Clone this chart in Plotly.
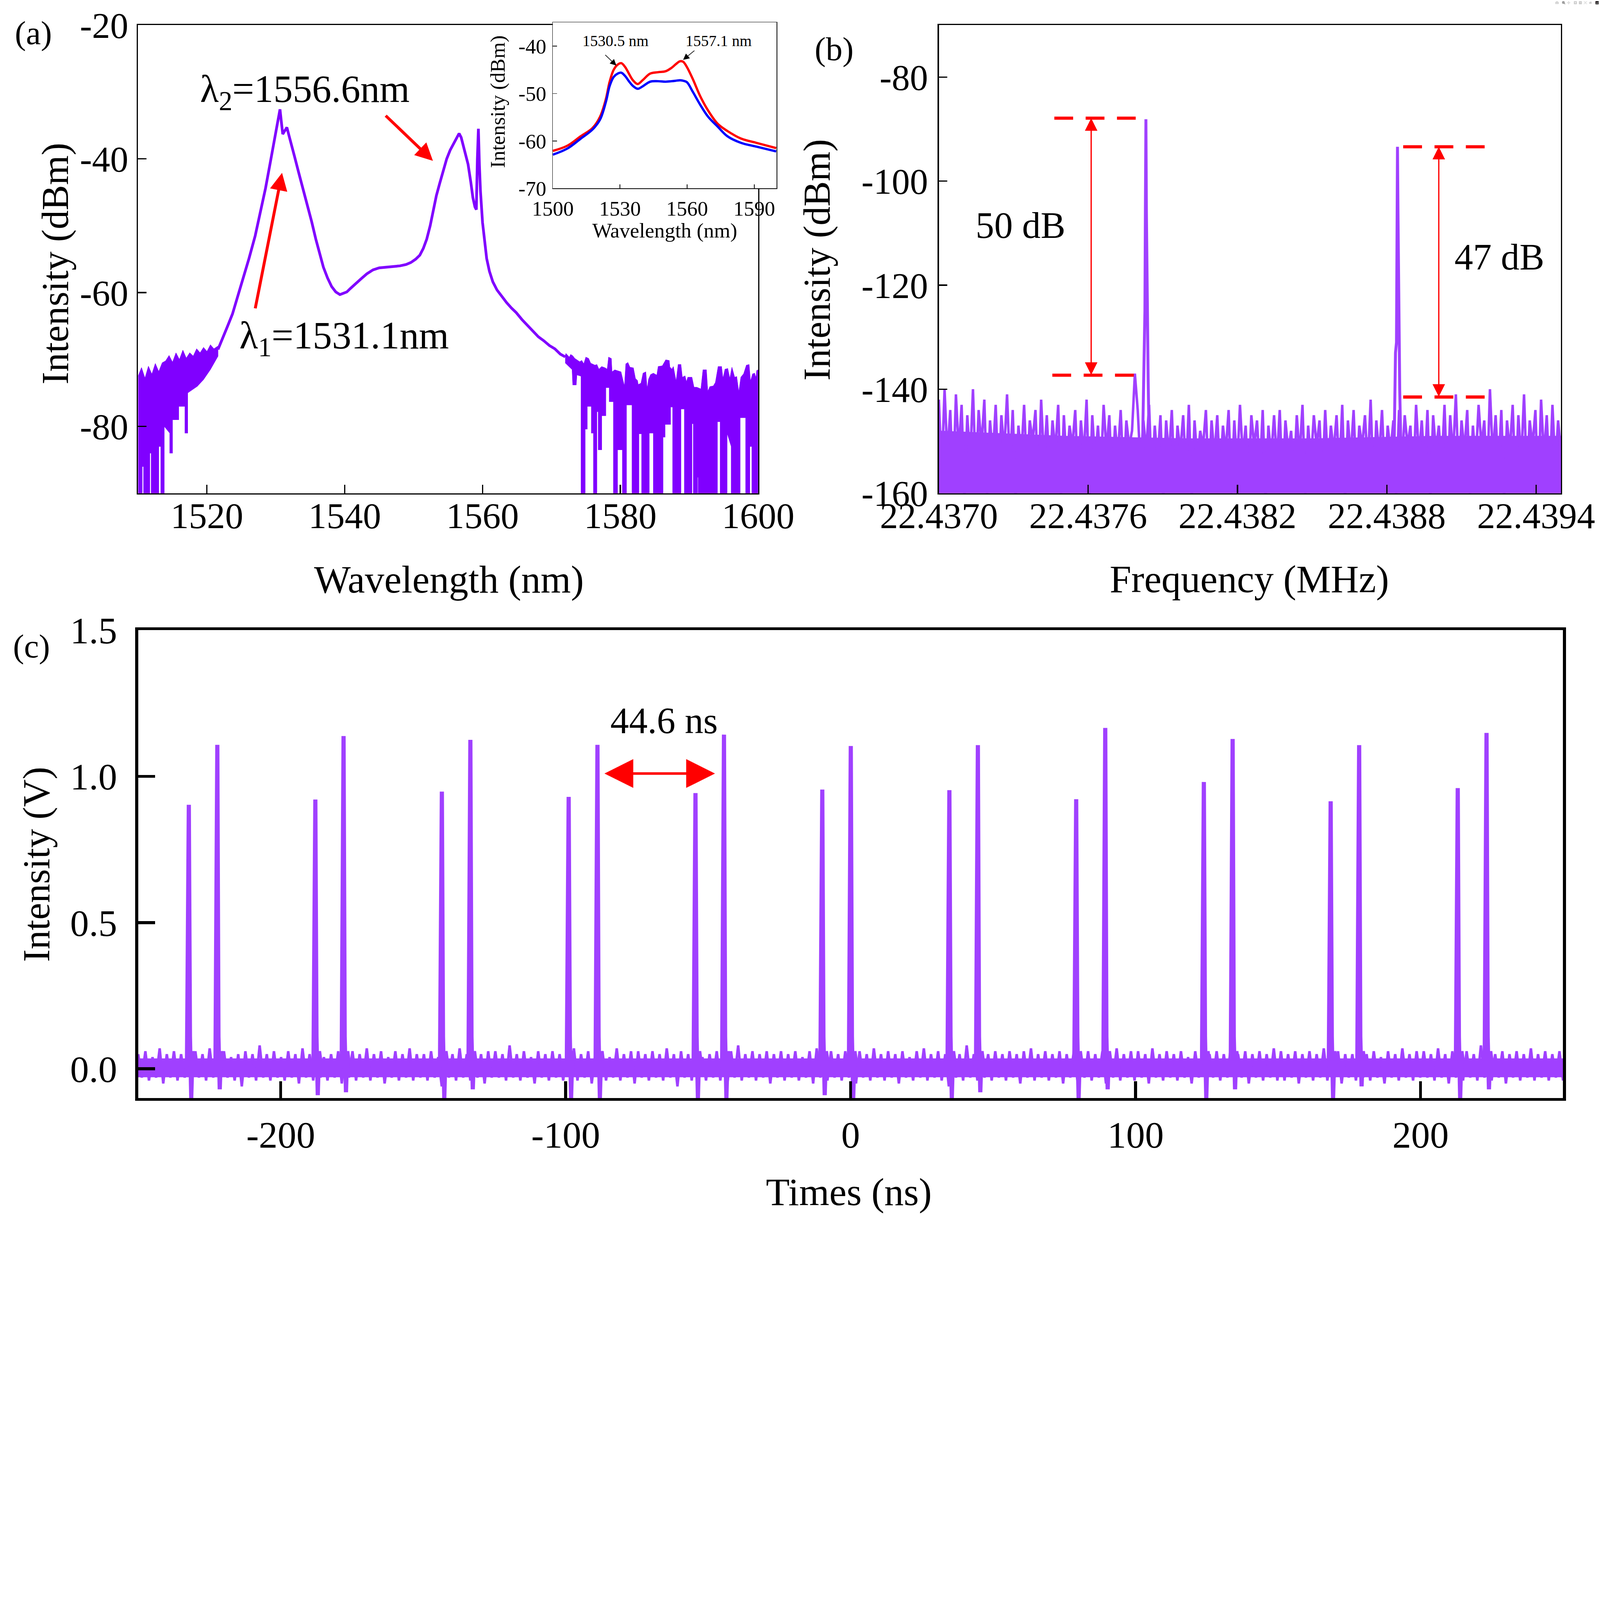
import numpy as np
import plotly.graph_objects as go

FONT = "Liberation Serif"
PURPLE_A = "#8000FF"
PURPLE_BC = "#A040FF"
W, H = 7662, 5889

# ---------------- (a) optical spectrum ----------------
# noisy floor at the left: upper and lower edges of the purple band (nm, dBm)
a_left_top_wl = [1510.0, 1510.5, 1511.0, 1511.5, 1512.0, 1512.5, 1513.0, 1513.5, 1514.0, 1514.5, 1515.0, 1515.5,
                 1516.0, 1516.5, 1517.0, 1517.5, 1518.0, 1518.5, 1519.0, 1519.5, 1520.0, 1520.5, 1521.0, 1521.6]
a_left_top = [-72.5, -71.2, -72.8, -71.0, -72.2, -70.6, -71.8, -70.5, -70.2, -69.4, -70.4, -69.0,
              -70.0, -68.6, -69.8, -69.0, -69.5, -68.4, -69.0, -68.2, -68.8, -67.8, -68.4, -68.0]
a_left_bot_wl = [1510.0, 1510.6, 1510.6, 1510.8, 1510.8, 1511.7, 1511.7, 1511.9, 1511.9, 1513.0, 1513.0, 1513.3,
                 1513.3, 1513.8, 1513.8, 1514.6, 1514.6, 1515.0, 1515.0, 1515.9, 1515.9, 1516.8, 1516.8, 1517.2,
                 1517.2, 1518.6, 1519.5, 1520.5, 1521.6]
a_left_bot = [-95, -95, -86, -86, -95, -95, -84, -84, -95, -95, -83, -83,
              -95, -95, -80, -81, -84, -84, -79, -79, -77, -77, -81, -81,
              -75, -74, -73, -71.5, -69.5]
# smooth part of the spectrum
a_main_wl = [1521.6, 1522.0, 1522.5, 1523.0, 1523.7, 1524.5, 1525.3, 1526.1, 1527.0, 1527.8,
             1528.5, 1529.2, 1529.7, 1530.1, 1530.4, 1530.6, 1530.8, 1531.0, 1531.3, 1531.6,
             1531.9, 1532.3, 1532.7, 1533.3, 1534.0, 1534.5, 1535.2, 1535.8, 1536.3, 1536.9,
             1537.5, 1538.1, 1538.7, 1539.3, 1539.8, 1540.3, 1540.8, 1541.5, 1542.3, 1543.2,
             1544.1, 1545.0, 1546.0, 1547.0, 1548.0, 1548.9, 1549.6, 1550.3, 1550.9, 1551.4,
             1551.9, 1552.4, 1552.8, 1553.3, 1553.8, 1554.3, 1554.8, 1555.3, 1555.8, 1556.2,
             1556.6, 1556.9, 1557.2, 1557.6, 1557.9, 1558.3, 1558.6, 1558.9, 1559.1, 1559.25,
             1559.4, 1559.55, 1559.7, 1560.0, 1560.3, 1560.6, 1561.0, 1561.5, 1562.1, 1562.8,
             1563.5, 1564.2, 1564.9, 1565.7, 1566.4, 1567.2, 1568.1, 1568.9, 1569.7, 1570.5,
             1571.3, 1572.0]
a_main_int = [-68.5, -67.5, -66.5, -65.0, -63.2, -60.5, -57.5, -54.9, -51.5, -47.8,
              -44.4, -40.5, -37.5, -35.6, -33.8, -32.6, -34.5, -36.3, -35.8, -35.3,
              -36.5, -38.2, -39.6, -42.0, -44.7, -46.5, -49.4, -52.0, -54.1, -56.2,
              -57.8, -59.1, -59.9, -60.3, -60.1, -59.9, -59.4, -58.8, -58.0, -57.2,
              -56.6, -56.3, -56.2, -56.1, -56.0, -55.8, -55.5, -55.0, -54.4, -53.4,
              -52.0, -50.0, -47.8, -45.5, -43.6, -41.7, -40.0, -38.7, -37.7, -36.8,
              -36.2, -36.8, -38.0, -39.2, -40.8, -43.5, -45.8, -47.2, -47.6, -40.0,
              -35.5, -41.0, -44.8, -49.5, -52.5, -54.9, -56.8, -58.4, -59.6, -60.6,
              -61.5, -62.3, -63.0, -64.0, -64.8, -65.7, -66.6, -67.2, -67.9, -68.4,
              -69.2, -69.6]
# noisy floor at the right: upper and lower edges of the purple band
a_right_top_wl = [1572.0, 1572.1, 1572.6, 1572.8, 1573.1, 1573.4, 1573.7, 1574.1, 1574.4, 1574.7, 1575.0, 1575.4,
                  1575.7, 1576.3, 1576.6, 1576.9, 1577.3, 1577.8, 1578.1, 1578.3, 1578.7, 1578.8, 1579.2, 1579.5,
                  1580.1, 1580.6, 1580.8, 1581.1, 1581.4, 1581.9, 1582.2, 1582.5, 1582.6, 1583.0, 1583.3, 1583.7,
                  1583.9, 1584.1, 1584.4, 1584.8, 1585.3, 1585.5, 1586.1, 1586.6, 1587.1, 1587.2, 1587.5, 1587.7,
                  1588.1, 1588.4, 1588.8, 1589.0, 1589.4, 1589.6, 1589.8, 1590.4, 1590.7, 1591.1, 1591.7, 1592.0,
                  1592.5, 1592.7, 1593.0, 1593.5, 1593.8, 1594.2, 1594.7, 1594.9, 1595.2, 1595.6, 1595.9, 1596.2,
                  1596.6, 1596.9, 1597.2, 1597.5, 1597.9, 1598.3, 1598.7, 1598.9, 1599.2, 1599.5, 1599.7, 1599.8,
                  1600.0]
a_right_top = [-69.5, -69.1, -69.65, -69.25, -69.45, -69.85, -70.05, -70.35, -70.15, -70.65, -69.65, -69.85,
               -70.55, -70.85, -70.75, -71.45, -71.05, -71.25, -71.45, -69.65, -69.85, -71.85, -71.55, -71.65,
               -71.85, -74.0, -70.65, -70.45, -71.15, -71.25, -72.85, -73.15, -73.75, -73.55, -72.05, -71.85,
               -74.4, -72.95, -72.25, -72.05, -72.35, -71.05, -70.95, -70.05, -70.15, -71.15, -71.45, -71.05,
               -73.25, -70.75, -70.75, -72.65, -72.45, -73.35, -72.65, -72.65, -74.15, -74.15, -74.4, -71.55,
               -71.55, -74.75, -74.05, -73.95, -73.45, -71.05, -71.05, -72.85, -71.45, -71.35, -72.85, -71.15,
               -72.65, -72.55, -74.85, -72.65, -72.15, -70.85, -70.75, -73.25, -72.15, -72.05, -72.75, -71.65,
               -71.55]
a_right_bot_wl = [1572.0, 1573.0, 1573.1, 1573.6, 1573.7, 1574.3, 1574.3, 1574.9, 1574.9, 1575.2, 1575.2, 1575.8,
                  1575.8, 1576.1, 1576.1, 1576.6, 1576.6, 1576.8, 1576.8, 1577.3, 1577.3, 1577.9, 1577.9, 1578.4,
                  1578.4, 1579.0, 1579.0, 1579.6, 1579.6, 1580.3, 1580.3, 1580.9, 1580.9, 1581.7, 1581.7, 1582.7,
                  1582.7, 1583.1, 1583.1, 1584.2, 1584.2, 1584.8, 1584.8, 1586.2, 1586.2, 1586.5, 1586.5, 1587.3,
                  1587.3, 1587.6, 1587.6, 1588.8, 1588.8, 1589.3, 1589.3, 1590.4, 1590.4, 1590.6, 1590.6, 1591.2,
                  1591.2, 1591.3, 1591.3, 1594.1, 1594.1, 1594.5, 1594.5, 1595.5, 1595.5, 1596.1, 1596.1, 1597.4,
                  1597.4, 1598.2, 1598.2, 1598.8, 1598.8, 1599.1, 1599.1, 1600.0]
a_right_bot = [-70.5, -71.5, -73.8, -73.8, -72.3, -72.5, -95, -95, -80.4, -80.4, -77.0, -77.0,
               -81.0, -81.0, -95, -95, -77.8, -77.8, -83.5, -83.5, -78.4, -78.4, -74.2, -74.2,
               -76.3, -76.3, -95, -95, -83.5, -83.5, -95, -95, -76.8, -76.8, -95, -95,
               -81.1, -81.1, -95, -95, -81.0, -81.0, -95, -95, -81.6, -81.6, -79.7, -79.7,
               -77.1, -77.1, -95, -95, -77.4, -77.4, -95, -95, -79.6, -79.6, -95, -95,
               -87.6, -87.6, -95, -95, -79.3, -79.3, -95, -95, -81.0, -83.0, -95, -95,
               -78.7, -78.7, -95, -95, -83.0, -83.0, -95, -95]

# inset of (a)
inset_wl = [1500, 1506.5, 1512.5, 1517.7, 1521.1, 1523.7, 1525.4, 1527.2, 1529.0, 1530.6,
            1532.3, 1534.0, 1535.8, 1537.9, 1540.1, 1543.5, 1547.0, 1550.4, 1553.0, 1555.0,
            1556.8, 1558.2, 1559.9, 1562.5, 1565.9, 1569.4, 1573.7, 1578.0, 1584.1, 1591.0,
            1599.8]
inset_red = [-62.1, -61.0, -59.0, -57.3, -54.9, -51.2, -47.5, -45.0, -43.9, -43.6,
             -44.4, -45.8, -47.2, -48.0, -47.2, -45.8, -45.5, -45.3, -44.6, -43.8,
             -43.2, -43.3, -44.4, -46.9, -50.6, -53.6, -56.4, -57.9, -59.5, -60.4,
             -61.5]
inset_blue = [-62.9, -61.6, -59.5, -57.6, -55.5, -51.8, -48.4, -46.5, -45.8, -45.6,
              -46.3, -47.4, -48.4, -49.0, -48.5, -47.5, -47.4, -47.5, -47.4, -47.3,
              -47.2, -47.3, -47.6, -49.6, -52.4, -54.9, -57.0, -59.0, -60.4, -61.2,
              -62.2]

# ---------------- (b) RF spectrum ----------------
b_noise_range = (22.4370, 22.4395)
b_noise = [-142, -156, -140, -153, -144, -159, -141, -152, -143, -161, -145, -154, -140, -157, -144, -151, -142, -160, -146, -153,
           -143, -158, -145, -152, -141, -155, -144, -161, -147, -153, -143, -156, -146, -150, -144, -159, -142, -154, -145, -157,
           -146, -152, -143, -160, -145, -155, -147, -151, -144, -158, -146, -153, -142, -161, -145, -154, -147, -156, -143, -152,
           -145, -159, -147, -153, -144, -157, -146, -151, -148, -137, -144, -155, -146, -152, -143, -158, -147, -154, -145, -161,
           -146, -153, -144, -159, -147, -152, -145, -156, -143, -161, -146, -154, -148, -151, -144, -158, -146, -153, -145, -157,
           -147, -152, -144, -160, -146, -155, -143, -153, -147, -158, -145, -151, -146, -156, -144, -161, -147, -153, -145, -154,
           -144, -159, -146, -152, -148, -157, -145, -153, -143, -160, -147, -154, -145, -151, -146, -158, -144, -155, -147, -152,
           -145, -156, -143, -161, -146, -153, -144, -158, -147, -151, -145, -155, -142, -159, -146, -153, -144, -157, -147, -152,
           -146, -160, -144, -154, -145, -151, -147, -158, -143, -153, -146, -156, -144, -161, -145, -152, -147, -155, -143, -159,
           -145, -153, -141, -157, -146, -152, -144, -160, -147, -154, -143, -151, -146, -158, -140, -153, -145, -156, -144, -161,
           -146, -152, -143, -159, -145, -154, -141, -157, -146, -151, -144, -160, -142, -153, -145, -158, -143, -155, -146, -152]
b_env_f = [22.4370, 22.4375, 22.4380, 22.4385, 22.4390, 22.4395]
b_env_top = [-148.0, -149.0, -149.5, -149.5, -149.0, -149.0]
b_env_bot = [-162.0, -162.0, -162.0, -162.0, -162.0, -162.0]
b_peak1_f = [22.437818, 22.437824, 22.437828, 22.437830, 22.437832, 22.437834, 22.437837, 22.437841, 22.437846]
b_peak1_v = [-152, -134, -125, -105, -88.1, -106, -122, -138, -153]
b_peak2_f = [22.438829, 22.438835, 22.438839, 22.438841, 22.438843, 22.438845, 22.438848, 22.438852, 22.438857]
b_peak2_v = [-153, -133, -131, -105, -93.4, -106, -131, -140, -152]

# ---------------- (c) pulse train ----------------
c_base_range = (-250.0, 250.0)
c_base = [0.05, -0.03, 0.06, -0.04, 0.04, -0.03, 0.07, -0.05, 0.05, -0.03, 0.06, -0.04, 0.05, -0.03, 0.04, -0.05, 0.06, -0.03, 0.05, -0.04,
          0.07, -0.03, 0.05, -0.04, 0.06, -0.03, 0.04, -0.04, 0.05, -0.06, 0.06, -0.03, 0.05, -0.04, 0.08, -0.03, 0.05, -0.04, 0.06, -0.03,
          0.04, -0.04, 0.06, -0.03, 0.05, -0.05, 0.07, -0.03, 0.05, -0.04, 0.06, -0.03, 0.04, -0.04, 0.05, -0.03, 0.06, -0.05, 0.05, -0.03,
          0.06, -0.04, 0.05, -0.03, 0.07, -0.04, 0.05, -0.03, 0.06, -0.05, 0.04, -0.03, 0.06, -0.04, 0.05, -0.03, 0.07, -0.04, 0.05, -0.03,
          0.05, -0.04, 0.06, -0.03, 0.04, -0.06, 0.06, -0.03, 0.05, -0.04, 0.07, -0.03, 0.05, -0.04, 0.06, -0.03, 0.05, -0.05, 0.06, -0.03,
          0.06, -0.03, 0.05, -0.04, 0.08, -0.03, 0.05, -0.04, 0.06, -0.03, 0.04, -0.05, 0.06, -0.03, 0.05, -0.04, 0.06, -0.03, 0.05, -0.04,
          0.05, -0.03, 0.07, -0.04, 0.05, -0.03, 0.06, -0.05, 0.05, -0.03, 0.06, -0.04, 0.04, -0.03, 0.07, -0.04, 0.05, -0.03, 0.06, -0.05,
          0.06, -0.03, 0.05, -0.04, 0.06, -0.03, 0.05, -0.04, 0.07, -0.03, 0.05, -0.06, 0.06, -0.03, 0.05, -0.04, 0.06, -0.03, 0.04, -0.04,
          0.05, -0.03, 0.06, -0.04, 0.05, -0.05, 0.06, -0.03, 0.08, -0.04, 0.05, -0.03, 0.06, -0.04, 0.05, -0.03, 0.06, -0.05, 0.05, -0.03,
          0.06, -0.04, 0.05, -0.03, 0.06, -0.04, 0.04, -0.03, 0.06, -0.05, 0.07, -0.03, 0.05, -0.04, 0.06, -0.03, 0.05, -0.04, 0.06, -0.03,
          0.05, -0.05, 0.06, -0.03, 0.05, -0.04, 0.07, -0.03, 0.05, -0.04, 0.06, -0.03, 0.05, -0.05, 0.06, -0.03, 0.04, -0.04, 0.06, -0.03,
          0.07, -0.04, 0.05, -0.03, 0.06, -0.04, 0.05, -0.06, 0.06, -0.03, 0.05, -0.04, 0.08, -0.03, 0.05, -0.04, 0.06, -0.03, 0.05, -0.04,
          0.06, -0.03, 0.05, -0.04, 0.06, -0.03, 0.05, -0.05, 0.06, -0.03, 0.07, -0.04, 0.05, -0.03, 0.06, -0.04, 0.05, -0.03, 0.06, -0.05,
          0.05, -0.03, 0.06, -0.04, 0.04, -0.03, 0.06, -0.04, 0.05, -0.03, 0.06, -0.05, 0.05, -0.03, 0.07, -0.04, 0.05, -0.03, 0.06, -0.04,
          0.06, -0.03, 0.05, -0.05, 0.07, -0.03, 0.05, -0.04, 0.06, -0.03, 0.05, -0.04, 0.06, -0.03, 0.04, -0.05, 0.06, -0.03, 0.05, -0.04,
          0.05, -0.03, 0.06, -0.04, 0.05, -0.03, 0.08, -0.04, 0.05, -0.03, 0.06, -0.05, 0.05, -0.03, 0.06, -0.04, 0.05, -0.03, 0.07, -0.04,
          0.06, -0.04, 0.05, -0.03, 0.06, -0.05, 0.05, -0.03, 0.06, -0.04, 0.05, -0.03, 0.07, -0.04, 0.05, -0.03, 0.06, -0.05, 0.05, -0.03,
          0.05, -0.04, 0.06, -0.03, 0.05, -0.04, 0.06, -0.03, 0.04, -0.05, 0.06, -0.03, 0.05, -0.04, 0.07, -0.03, 0.05, -0.04, 0.06, -0.03,
          0.06, -0.03, 0.05, -0.04, 0.07, -0.03, 0.05, -0.05, 0.06, -0.03, 0.05, -0.04, 0.06, -0.03, 0.05, -0.04, 0.08, -0.03, 0.05, -0.04,
          0.05, -0.03, 0.06, -0.05, 0.05, -0.03, 0.06, -0.04, 0.05, -0.03, 0.07, -0.04, 0.05, -0.03, 0.06, -0.04, 0.05, -0.03, 0.06, -0.04]
c_env_t = [-250.0, -125.0, 0.0, 125.0, 250.0]
c_env_top = [0.035, 0.035, 0.035, 0.035, 0.035]
c_env_bot = [-0.028, -0.028, -0.028, -0.028, -0.028]
c_pulse_t = [-232.3, -222.3, -187.9, -178.0, -143.5, -133.5, -99.0, -88.9, -54.5, -44.5, -10.0,
             0.0, 34.6, 44.6, 79.1, 89.3, 123.9, 134.0, 168.4, 178.4, 213.0, 223.1]
c_pulse_h = [0.903, 1.108, 0.921, 1.138, 0.948, 1.125, 0.930, 1.108, 0.943, 1.143, 0.955,
             1.104, 0.953, 1.107, 0.922, 1.166, 0.981, 1.128, 0.915, 1.107, 0.960, 1.149]
c_pulse_dip = [-0.10, -0.07, -0.09, -0.08, -0.10, -0.07, -0.10, -0.10, -0.10, -0.10, -0.09,
               -0.10, -0.10, -0.08, -0.10, -0.07, -0.10, -0.07, -0.10, -0.06, -0.10, -0.07]

# tick labels
a_xticks = [1520, 1540, 1560, 1580, 1600]
a_yticks = [-80, -60, -40, -20]
b_xticks = [22.4370, 22.4376, 22.4382, 22.4388, 22.4394]
b_yticks = [-160, -140, -120, -100, -80]
c_xticks = [-200, -100, 0, 100, 200]
c_yticks = [0.0, 0.5, 1.0, 1.5]
in_xticks = [1500, 1530, 1560, 1590]
in_yticks = [-70, -60, -50, -40]

# ---------------- build traces ----------------
b_f = np.linspace(*b_noise_range, len(b_noise))
c_t = np.linspace(*c_base_range, len(c_base))

px, py = [], []
for t, h, d in zip(c_pulse_t, c_pulse_h, c_pulse_dip):
    px += [t - 0.6, t - 0.25, t + 0.05, t + 0.45, t + 0.9, t + 1.35, t + 1.9, None]
    py += [0.02, h, h, 0.11, d, 0.06, 0.02, None]

fig = go.Figure()


def poly(xt, yt, xb, yb, color, xa, ya):
    fig.add_trace(go.Scatter(x=list(xt) + list(xb)[::-1], y=list(yt) + list(yb)[::-1],
                             fill="toself", fillcolor=color, mode="lines", line=dict(width=2, color=color),
                             xaxis=xa, yaxis=ya, showlegend=False, hoverinfo="skip"))


def line(xs, ys, color, width, xa, ya, shape="linear"):
    fig.add_trace(go.Scatter(x=xs, y=ys, mode="lines", line=dict(color=color, width=width, shape=shape),
                             xaxis=xa, yaxis=ya, showlegend=False, connectgaps=False))


poly(a_left_top_wl, a_left_top, a_left_bot_wl, a_left_bot, PURPLE_A, "x", "y")
poly(a_right_top_wl, a_right_top, a_right_bot_wl, a_right_bot, PURPLE_A, "x", "y")
line(a_main_wl, a_main_int, PURPLE_A, 13, "x", "y")
poly(b_env_f, b_env_top, b_env_f, b_env_bot, PURPLE_BC, "x2", "y2")
line(b_f, b_noise, PURPLE_BC, 12, "x2", "y2")
line(b_peak1_f, b_peak1_v, PURPLE_BC, 14, "x2", "y2")
line(b_peak2_f, b_peak2_v, PURPLE_BC, 14, "x2", "y2")
poly(c_env_t, c_env_top, c_env_t, c_env_bot, PURPLE_BC, "x3", "y3")
line(c_t, c_base, PURPLE_BC, 12, "x3", "y3")
line(px, py, PURPLE_BC, 20, "x3", "y3")
line(inset_wl, inset_red, "#FF0000", 11, "x4", "y4", "spline")
line(inset_wl, inset_blue, "#0000FF", 11, "x4", "y4", "spline")


def axis(domain, rng, anchor, vals, texts, lw, tl, tw, fs, so):
    return dict(domain=domain, range=rng, anchor=anchor, tickvals=vals, ticktext=texts,
                showline=True, linewidth=lw, linecolor="black", mirror=True,
                ticks="inside", ticklen=tl, tickwidth=tw, tickcolor="black",
                showgrid=False, zeroline=False, ticklabelstandoff=so, automargin=False,
                tickfont=dict(family=FONT, size=fs, color="black"))


TA = 174
TC = 180
fig.update_layout(
    width=W, height=H, autosize=False,
    margin=dict(l=0, r=0, t=0, b=0, pad=0),
    paper_bgcolor="white", plot_bgcolor="white",
    xaxis=axis([0.0863, 0.4738], [1510, 1600], "y", a_xticks, [str(v) for v in a_xticks], 6, 40, 6, TA, -47),
    yaxis=axis([0.5989, 0.9796], [-90, -20], "x", a_yticks, [str(v) for v in a_yticks], 6, 40, 6, TA, 6),
    xaxis2=axis([0.5868, 0.9756], [22.4370, 22.4395], "y2", b_xticks, [f"{v:.4f}" for v in b_xticks], 6, 40, 6, TA, -47),
    yaxis2=axis([0.5989, 0.9796], [-160, -70], "x2", b_yticks, [str(v) for v in b_yticks], 6, 40, 6, TA, 11),
    xaxis3=axis([0.0864, 0.9769], [-250, 250], "y3", c_xticks, [str(v) for v in c_xticks], 14, 80, 14, TC, 8),
    yaxis3=axis([0.1071, 0.4875], [-0.1, 1.5], "x3", c_yticks, [f"{v:.1f}" for v in c_yticks], 14, 80, 14, TC, 51),
    xaxis4=axis([0.3455, 0.4854], [1500, 1600], "y4", in_xticks, [str(v) for v in in_xticks], 3, 20, 3, 100, 8),
    yaxis4=axis([0.8468, 0.9818], [-70, -35], "x4", in_yticks, [str(v) for v in in_yticks], 3, 20, 3, 100, 8),
)

ann = []


def txt(x, y, s, size, xref="paper", yref="paper", angle=0):
    ann.append(dict(x=x, y=y, xref=xref, yref=yref, text=s, showarrow=False, textangle=angle,
                    font=dict(family=FONT, size=size, color="black"), xanchor="center", yanchor="middle"))


def arrow(x, y, ax, ay, xr, yr, color, width, head, size, both=False):
    d = dict(x=x, y=y, ax=ax, ay=ay, xref=xr, yref=yr, axref=xr, ayref=yr, text="",
             showarrow=True, arrowhead=head, arrowsize=size, arrowwidth=width, arrowcolor=color, standoff=0)
    if both:
        d.update(arrowside="end+start", startarrowhead=head, startarrowsize=size, startstandoff=0)
    ann.append(d)


# panel letters
txt(0.0209, 0.9733, "(a)", 160)
txt(0.5214, 0.9601, "(b)", 160)
txt(0.0197, 0.4744, "(c)", 160)
# axis titles
txt(0.0346, 0.7857, "Intensity (dBm)", 182, angle=-90)
txt(0.2806, 0.5288, "Wavelength (nm)", 186)
txt(0.5106, 0.7888, "Intensity (dBm)", 182, angle=-90)
txt(0.7809, 0.5290, "Frequency (MHz)", 186)
txt(0.0227, 0.2972, "Intensity (V)", 182, angle=-90)
txt(0.5305, 0.0309, "Times (ns)", 186)
# inset titles
txt(3183 / W, 1 - 1104 / H, "Wavelength (nm)", 100)
txt(2383 / W, 1 - 487 / H, "Intensity (dBm)", 100, angle=-90)

# (a) annotations
txt(1534.2, -30.0, "λ<sub>2</sub>=1556.6nm", 185, "x", "y")
txt(1539.9, -66.8, "λ<sub>1</sub>=1531.1nm", 185, "x", "y")
arrow(1530.9, -42.1, 1527.0, -62.4, "x", "y", "#FF0000", 14, 2, 1.2)
arrow(1552.8, -40.3, 1545.9, -33.5, "x", "y", "#FF0000", 14, 2, 1.2)
# inset annotations
txt(1528.0, -38.9, "1530.5 nm", 74, "x4", "y4")
txt(1574.1, -38.9, "1557.1 nm", 74, "x4", "y4")
arrow(1528.4, -44.1, 1523.3, -41.8, "x4", "y4", "black", 3, 2, 2)
arrow(1558.2, -42.9, 1563.4, -40.9, "x4", "y4", "black", 3, 2, 2)

# (b) annotations
txt(22.437328, -108.5, "50 dB", 178, "x2", "y2")
txt(22.439252, -114.6, "47 dB", 178, "x2", "y2")
arrow(22.437612, -87.9, 22.437612, -137.3, "x2", "y2", "#FF0000", 6, 2, 2, both=True)
arrow(22.439009, -93.4, 22.439009, -141.5, "x2", "y2", "#FF0000", 6, 2, 2, both=True)

# (c) annotations
txt(-65.5, 1.19, "44.6 ns", 178, "x3", "y3")
arrow(-47.6, 1.01, -86.5, 1.01, "x3", "y3", "#FF0000", 12, 2, 2.3, both=True)

fig.update_layout(annotations=ann)

dash = dict(color="#FF0000", width=15, dash="90px,60px")
shapes = []
for (x0, x1, y) in [(22.437464, 22.437791, -87.9), (22.437456, 22.437788, -137.3),
                    (22.438866, 22.439198, -93.4), (22.438866, 22.439198, -141.5)]:
    shapes.append(dict(type="line", xref="x2", yref="y2", x0=x0, x1=x1, y0=y, y1=y, line=dash))
fig.update_layout(shapes=shapes)

post = """
(function(){
  var gd = document.getElementsByClassName('plotly-graph-div')[0];
  document.documentElement.style.margin='0';
  document.documentElement.style.overflow='hidden';
  document.body.style.margin='0';
  document.body.style.overflow='hidden';
  var s = Math.min(window.innerWidth/%d, window.innerHeight/%d);
  if (s < 0.999 || s > 1.001) {
    gd.style.transformOrigin='0 0';
    gd.style.transform='scale('+s+')';
    var p = gd.parentElement;
    p.style.width=(%d*s)+'px'; p.style.height=(%d*s)+'px'; p.style.overflow='hidden';
  }
})();
""" % (W, H, W, H)

fig.write_html("out.html", post_script=post)
